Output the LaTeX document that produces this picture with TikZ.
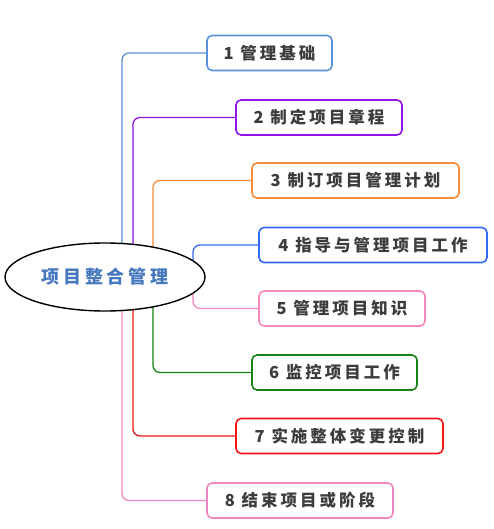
\documentclass[tikz,border=0pt]{standalone}
\usepackage{fontspec}
\setmainfont{Noto Sans CJK SC}
\usetikzlibrary{backgrounds,shapes.geometric}
\definecolor{cA}{RGB}{90,145,220}
\definecolor{cB}{RGB}{145,20,230}
\definecolor{cC}{RGB}{245,140,55}
\definecolor{cD}{RGB}{50,105,245}
\definecolor{cE}{RGB}{245,135,190}
\definecolor{cF}{RGB}{20,130,20}
\definecolor{cG}{RGB}{240,20,20}
\definecolor{cH}{RGB}{240,135,195}
\definecolor{txt}{RGB}{60,60,60}
\definecolor{roottxt}{RGB}{70,120,190}
\tikzset{
  topic/.style={draw=#1, line width=1.6pt, rounded corners=5pt, fill=white,
    minimum height=35pt, inner sep=0pt, text=txt,
    font=\fontsize{16.5pt}{18pt}\selectfont\bfseries\addfontfeature{LetterSpace=18}},
  link/.style={draw=#1, line width=1.3pt, rounded corners=7pt},
}
\begin{document}
\begin{tikzpicture}[x=1pt,y=-1pt]
\useasboundingbox (0,0) rectangle (493,529);
\node[draw=black, line width=1.4pt, ellipse, fill=white, minimum width=200pt, minimum height=68pt, inner sep=0pt,
  text=roottxt, font=\fontsize{18pt}{20pt}\selectfont\bfseries\addfontfeature{LetterSpace=22}] (root) at (105,277) {项目整合管理};
\node[topic=cA, minimum width=125pt] (b1) at (269.5,53) {1 管理基础};
\node[topic=cB, minimum width=166pt] (b2) at (319,117.5) {2 制定项目章程};
\node[topic=cC, minimum width=207pt] (b3) at (355.5,180.5) {3 制订项目管理计划};
\node[topic=cD, minimum width=228pt] (b4) at (373,245) {4 指导与管理项目工作};
\node[topic=cE, minimum width=166pt] (b5) at (342,308.5) {5 管理项目知识};
\node[topic=cF, minimum width=165pt] (b6) at (334.5,372.5) {6 监控项目工作};
\node[topic=cG, minimum width=207pt] (b7) at (339.5,436) {7 实施整体变更控制};
\node[topic=cH, minimum width=186pt] (b8) at (300,500.5) {8 结束项目或阶段};
\coordinate (k1) at (122,0);
\coordinate (k2) at (133,0);
\coordinate (k3) at (153,0);
\coordinate (k4) at (193,0);
\begin{scope}[on background layer]
\draw[link=cA] (root.center -| k1) |- (b1.west);
\draw[link=cB] (root.center -| k2) |- (b2.west);
\draw[link=cC] (root.center -| k3) |- (b3.west);
\draw[link=cD] (root.center -| k4) |- (b4.west);
\draw[link=cE] (root.center -| k4) |- (b5.west);
\draw[link=cF] (root.center -| k3) |- (b6.west);
\draw[link=cG] (root.center -| k2) |- (b7.west);
\draw[link=cH] (root.center -| k1) |- (b8.west);
\end{scope}
\end{tikzpicture}
\end{document}
